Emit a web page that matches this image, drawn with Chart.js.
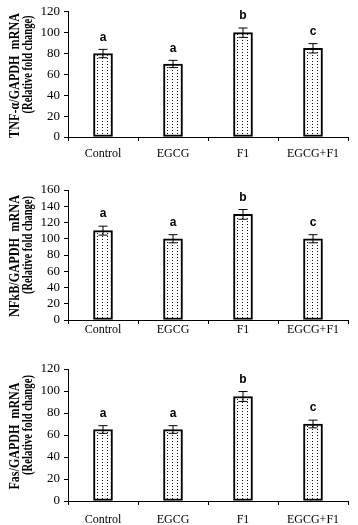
<!DOCTYPE html>
<html>
<head>
<meta charset="utf-8">
<script src="https://cdn.jsdelivr.net/npm/chart.js@4.4.1/dist/chart.umd.min.js"></script>
<style>
  body { margin: 0; background: #fff; }
  .panel { position: absolute; left: 0; width: 358px; }
</style>
</head>
<body>
<div class="panel" style="top:0;height:170px"><canvas id="c1"></canvas></div>
<div class="panel" style="top:175px;height:170px"><canvas id="c2"></canvas></div>
<div class="panel" style="top:350px;height:175px"><canvas id="c3"></canvas></div>
<script>
const groups = ['Control', 'EGCG', 'F1', 'EGCG+F1'];

const tnfValues = [80, 70, 100, 85];
const tnfErrors = [4, 3.5, 4.5, 4.5];
const tnfLetters = ['a', 'a', 'b', 'c'];

const nfkbValues = [110, 100, 130, 100];
const nfkbErrors = [5.5, 5, 6, 5];
const nfkbLetters = ['a', 'a', 'b', 'c'];

const fasValues = [65, 65, 95, 70];
const fasErrors = [3.5, 3.5, 4.5, 3.5];
const fasLetters = ['a', 'a', 'b', 'c'];

// dotted fill like the original
function dotPattern() {
  const c = document.createElement('canvas');
  c.width = 5; c.height = 3;
  const g = c.getContext('2d');
  g.fillStyle = '#fff';
  g.fillRect(0, 0, 5, 3);
  g.fillStyle = '#111';
  g.fillRect(2, 1, 1, 1);
  return g.createPattern(c, 'repeat');
}

const serif = "'Liberation Serif', 'Times New Roman', serif";

const errorBars = {
  id: 'errorBars',
  afterDatasetsDraw(chart, args, opts) {
    const ctx = chart.ctx;
    const y = chart.scales.y;
    const meta = chart.getDatasetMeta(0);
    ctx.save();
    ctx.strokeStyle = '#000';
    ctx.lineWidth = 1;
    meta.data.forEach((bar, i) => {
      const v = opts.values[i], e = opts.errors[i];
      const top = y.getPixelForValue(v + e);
      const bot = y.getPixelForValue(v - e);
      ctx.beginPath();
      ctx.moveTo(bar.x, top); ctx.lineTo(bar.x, bot);
      ctx.moveTo(bar.x - 4.5, top); ctx.lineTo(bar.x + 4.5, top);
      ctx.moveTo(bar.x - 4.5, bot); ctx.lineTo(bar.x + 4.5, bot);
      ctx.stroke();
      ctx.fillStyle = '#000';
      ctx.font = "bold 12px 'Liberation Sans', Arial, sans-serif";
      ctx.textAlign = 'center';
      ctx.textBaseline = 'bottom';
      ctx.fillText(opts.letters[i], bar.x, top - 6);
    });
    ctx.restore();
  }
};

// rotated two-line y title, squeezed along its length like the source image
const yTitle = {
  id: 'yTitle',
  afterDraw(chart, args, opts) {
    const ctx = chart.ctx;
    const area = chart.chartArea;
    const cy = (area.top + area.bottom) / 2;
    ctx.save();
    ctx.fillStyle = '#000';
    ctx.font = "bold 14.5px " + serif;
    ctx.textAlign = 'center';
    ctx.textBaseline = 'middle';
    opts.lines.forEach((txt, i) => {
      const w = ctx.measureText(txt).width;
      const sx = opts.lengths[i] / w;
      ctx.save();
      ctx.translate(opts.xs[i], cy + opts.shift[i]);
      ctx.rotate(-Math.PI / 2);
      ctx.scale(sx, 1);
      ctx.fillText(txt, 0, 0);
      ctx.restore();
    });
    ctx.restore();
  }
};

function makeChart(id, values, errors, letters, yMax, title, lengths, padTop, xHeight, labelPad) {
  new Chart(document.getElementById(id), {
    type: 'bar',
    data: {
      labels: groups,
      datasets: [{
        data: values,
        backgroundColor: dotPattern(),
        borderColor: '#000',
        borderWidth: 2,
        borderSkipped: false,
        barThickness: 19
      }]
    },
    options: {
      responsive: true,
      maintainAspectRatio: false,
      animation: false,
      layout: { padding: { top: padTop, right: 10, left: 0, bottom: 0 } },
      plugins: {
        legend: { display: false },
        tooltip: { enabled: false },
        errorBars: { values: values, errors: errors, letters: letters },
        yTitle: { lines: title, lengths: lengths, xs: [15, 28], shift: [1, -10] }
      },
      scales: {
        x: {
          offset: true,
          grid: { display: true, drawOnChartArea: false, offset: true, color: '#000', tickLength: 4 },
          border: { color: '#000', width: 1 },
          ticks: { color: '#000', font: { family: serif, size: 12 }, padding: labelPad, maxRotation: 0 },
          afterFit(s) { s.height = xHeight; }
        },
        y: {
          min: 0, max: yMax,
          ticks: { stepSize: 20, autoSkip: false, color: '#000', font: { family: serif, size: 13 }, padding: 4 },
          grid: { display: true, drawOnChartArea: false, color: '#000', tickLength: 4 },
          border: { color: '#000', width: 1 },
          afterFit(s) { s.width = 68; }
        }
      }
    },
    plugins: [errorBars, yTitle]
  });
}

makeChart('c1', tnfValues, tnfErrors, tnfLetters, 120,
  ['TNF-α/GAPDH  mRNA', '(Relative fold change)'], [125, 98], 7, 33, 6);
makeChart('c2', nfkbValues, nfkbErrors, nfkbLetters, 160,
  ['NFkB/GAPDH  mRNA', '(Relative fold change)'], [122, 98], 15, 25, -1);
makeChart('c3', fasValues, fasErrors, fasLetters, 120,
  ['Fas/GAPDH  mRNA', '(Relative fold change)'], [107, 100], 19, 24, 8);
</script>
</body>
</html>
